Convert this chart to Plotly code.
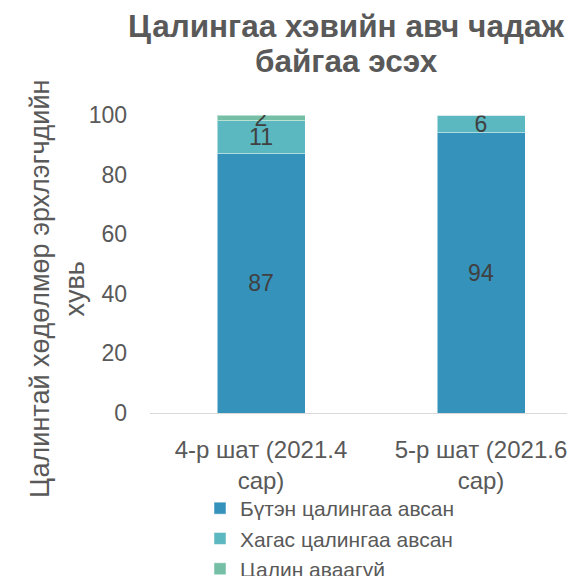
import plotly.graph_objects as go

title_lines = ["Цалингаа хэвийн авч чадаж", "байгаа эсэх"]
y_title = "Цалинтай хөдөлмөр эрхлэгчдийн<br>хувь"
categories = ["4-р шат (2021.4<br>сар)", "5-р шат (2021.6<br>сар)"]
series_names = ["Бүтэн цалингаа авсан", "Хагас цалингаа авсан", "Цалин аваагүй"]
full_pay = [87, 94]
half_pay = [11, 6]
no_pay = [2, 0]
colors = ["#3592BA", "#5BB7C0", "#74BFA6"]
y_ticks = [0, 20, 40, 60, 80, 100]

FONT = "Liberation Sans, Arial, sans-serif"
GRAY = "#595959"

# page body has an 8px default margin; figure sized to fit the window
OFF = 8
W, H = 575 - OFF, 576 - OFF

xpos = list(range(len(categories)))
fig = go.Figure()
for name, vals, col in zip(series_names, [full_pay, half_pay, no_pay], colors):
    fig.add_trace(go.Bar(
        x=xpos, y=vals, name=name,
        marker=dict(color=col, line=dict(color="rgba(255,255,255,0.5)", width=1)),
        width=0.4,
        text=[str(v) if v else "" for v in vals],
        textposition="inside", insidetextanchor="middle", textangle=0,
        textfont=dict(color="#404040", size=23, family=FONT),
        constraintext="none",
    ))

PL, PT, PB = 150 - OFF, 115 - OFF, 413 - OFF
PH = PB - PT
PW = W - PL
X0 = 261 - OFF          # pixel centre of first category (figure coords)
CAT_PX = 220            # pixels per category
xr = [-(X0 - PL) / CAT_PX, (W - X0) / CAT_PX]

fig.update_layout(
    width=W, height=H,
    barmode="stack",
    plot_bgcolor="white", paper_bgcolor="white",
    margin=dict(l=PL, r=0, t=PT, b=H - PB, autoexpand=False),
    font=dict(family=FONT, color=GRAY, size=22),
    uniformtext=dict(minsize=23, mode="show"),
    xaxis=dict(
        tickvals=xpos, ticktext=categories,
        range=xr,
        showline=True, linecolor="#D9D9D9", linewidth=1,
        showgrid=False, ticks="", zeroline=False,
        tickfont=dict(size=24, color=GRAY),
        tickangle=0, automargin=False, ticklabelstandoff=15,
    ),
    yaxis=dict(
        range=[0, 100], tickvals=y_ticks,
        showgrid=False, zeroline=False, showline=False, ticks="",
        tickfont=dict(size=23, color=GRAY),
        ticklabelstandoff=22, automargin=False,
    ),
    legend=dict(
        orientation="v", traceorder="normal",
        x=(192 - PL) / PW, xanchor="left",
        y=-(480 - PB) / PH, yanchor="top",
        font=dict(size=21, color=GRAY),
        bgcolor="rgba(0,0,0,0)",
        itemwidth=30, tracegroupgap=0,
    ),
    annotations=[
        dict(
            text="<b>%s</b>" % title_lines[0], showarrow=False,
            xref="paper", yref="paper",
            x=(346 - OFF - PL) / PW, xanchor="center",
            y=(PB - (26 - OFF)) / PH, yanchor="middle",
            font=dict(size=31.5, color=GRAY, family=FONT),
        ),
        dict(
            text="<b>%s</b>" % title_lines[1], showarrow=False,
            xref="paper", yref="paper",
            x=(346 - OFF - PL) / PW, xanchor="center",
            y=(PB - (61 - OFF)) / PH, yanchor="middle",
            font=dict(size=31.5, color=GRAY, family=FONT),
        ),
        dict(
            text=y_title,
            textangle=-90, showarrow=False,
            xref="paper", yref="paper",
            x=-(PL - (57 - OFF)) / PW, xanchor="center",
            y=(PB - (289 - OFF)) / PH, yanchor="middle",
            font=dict(size=27, color=GRAY),
        ),
    ],
)

fig.write_html("out.html")
